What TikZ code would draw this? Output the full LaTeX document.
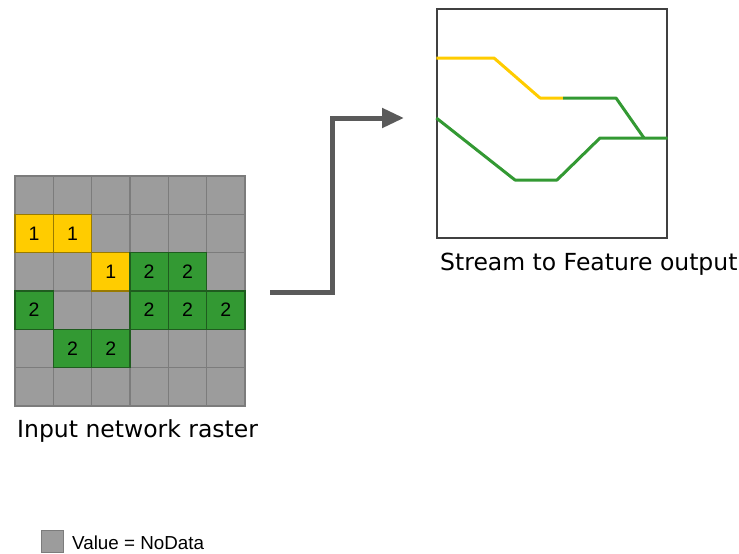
\documentclass[tikz,border=0pt]{standalone}
\usepackage{fontspec}
\setmainfont{DejaVu Sans}
\newfontfamily\digitfont{Liberation Sans}
\usepackage{tikz}
\usetikzlibrary{arrows.meta,positioning,calc}
\definecolor{nodata}{HTML}{9C9C9C}
\definecolor{nodataedge}{HTML}{7C7C7C}
\definecolor{sone}{HTML}{FFCC00}
\definecolor{stwo}{HTML}{339933}
\definecolor{flowgray}{HTML}{5A5A5A}

\begin{document}
\begin{tikzpicture}[x=1pt,y=-1pt,
    cellbox/.style={draw=nodataedge, line width=1.2pt, minimum size=38.33pt,
                    inner sep=0pt, font=\digitfont\fontsize{19.5}{19.5}\selectfont},
    streamline/.style={line width=3pt, line join=round},
    caption/.style={anchor=base west, inner sep=0pt,
                    font=\fontsize{23.5}{25}\selectfont}]

  \useasboundingbox (0,0) rectangle (739,554);

  \def\S{38.33}   % cell size
  \def\X{15}      % left of raster
  \def\Y{176}     % top of raster

  % ----- raster (NoData background) -----
  \node[minimum width=230pt, minimum height=230pt, inner sep=0pt]
    (raster) at (130,291) {};
  \foreach \c in {0,...,5}
    \foreach \r in {0,...,5}
      \node[cellbox, fill=nodata] (g\c\r) at (\X+\S*\c+\S/2, \Y+\S*\r+\S/2) {};

  % ----- macro: \streamcell{colour}{col}{row}{value} -----
  \newcommand{\streamcell}[4]{%
    \node[cellbox, fill=#1, draw=#1!60!black] (s#2#3)
      at (\X+\S*#2+\S/2, \Y+\S*#3+\S/2) {#4};
  }

  \streamcell{sone}{0}{1}{1}
  \streamcell{sone}{1}{1}{1}
  \streamcell{sone}{2}{2}{1}
  \streamcell{stwo}{3}{2}{2}
  \streamcell{stwo}{4}{2}{2}
  \streamcell{stwo}{0}{3}{2}
  \streamcell{stwo}{3}{3}{2}
  \streamcell{stwo}{4}{3}{2}
  \streamcell{stwo}{5}{3}{2}
  \streamcell{stwo}{1}{4}{2}
  \streamcell{stwo}{2}{4}{2}

  \node[caption] (inlabel) at (17,437) {Input network raster};

  % ----- output features -----
  \node[draw=black!75, line width=1.3pt, minimum width=230pt,
        minimum height=229pt, inner sep=0pt] (output) at (552,123.5) {};
  \draw[streamline, sone] (output.west |- 0,58) -- (494,58) -- (540,98) -- (563,98);
  \draw[streamline, stwo] (563,98) -- (616,98) -- (644,138);
  \draw[streamline, stwo] (output.west |- 0,118) -- (515,180) -- (557,180)
    -- (600,138) -- (output.east |- 0,138);

  \node[caption] (outlabel) at (440,270) {Stream to Feature output};

  % ----- flow arrow -----
  \coordinate (flowstart) at ($(raster.east)+(25,1)$);
  \coordinate (flowend) at (404,118);
  \draw[flowgray, line width=5pt, -{Triangle[length=22pt,width=19pt]}]
    (flowstart) -- (332,292) |- (flowend);

  % ----- legend -----
  \node[draw=nodataedge, fill=nodata, line width=1.2pt, minimum size=22pt,
        inner sep=0pt] (nodatakey) at (52.5,541.5) {};
  \node[anchor=base west, inner sep=0pt,
        font=\digitfont\fontsize{18.8}{20}\selectfont]
    (nodatalabel) at (72,549) {Value = NoData};

\end{tikzpicture}
\end{document}
